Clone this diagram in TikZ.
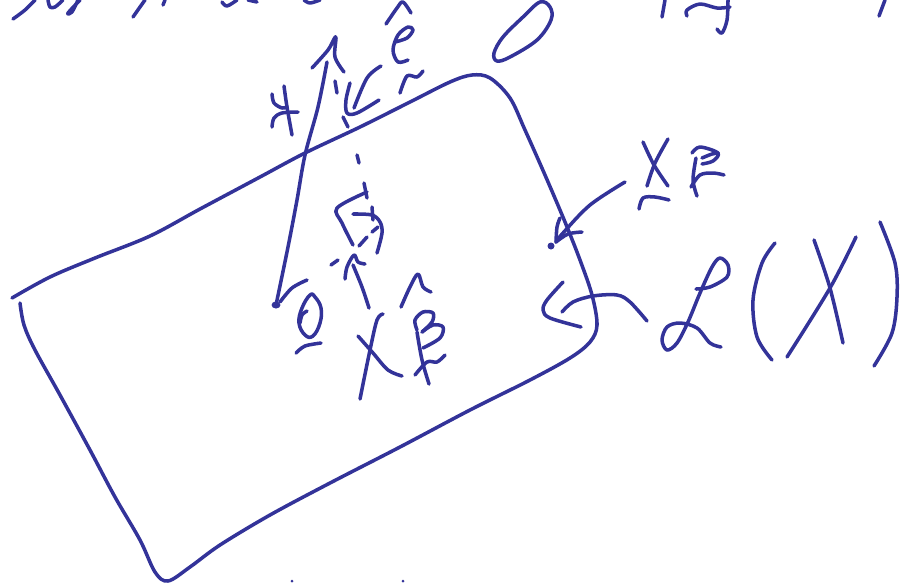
\documentclass[tikz,border=0pt]{standalone}
\definecolor{inkblue}{RGB}{51,51,153}
\newcommand{\stroke}[1]{\draw[ink] plot[smooth, tension=0.55] coordinates {#1};}
\begin{document}
\begin{tikzpicture}[x=0.1mm, y=-0.1mm,
        ink/.style={draw=inkblue, line width=1pt, line cap=round, line join=round}
    ]
    \useasboundingbox (0,0) rectangle (900,582);

    % plane
    \stroke{(12,298) (50,277) (95,258) (150,236) (200,209) (260,177) (305,153) (360,127) (410,102) (450,82) (472,75) (490,78) (510,98) (525,130) (545,175) (565,222) (580,260) (592,295) (597,325) (590,342) (570,358) (530,380) (470,410) (400,447) (330,483) (270,515) (220,545) (190,567) (168,581) (155,572) (140,540) (115,497) (90,450) (60,395) (35,350) (24,325) (20,303)}

    % y vector
    \stroke{(276,305) (288,247) (297,200) (305,155) (318,107) (327,62)}
    \stroke{(312,68) (328,50) (334,39) (336,38) (335,57) (344,72)}
    \stroke{(272,94) (274,103) (282,108) (287,107)}
    \stroke{(284,86) (287,107) (292,135)}
    \stroke{(272,127) (274,118) (282,113) (298,112)}

    % normal, dashed
    \stroke{(335,81) (337,93)}
    \stroke{(343,117) (348,127)}
    \stroke{(357,155) (359,163)}
    \stroke{(364,183) (367,198)}
    \stroke{(378,227) (372,232)}
    \stroke{(367,237) (359,246)}
    \stroke{(338,260) (331,265)}

    % e hat
    \stroke{(381,66) (367,78) (354,108)}
    \stroke{(350,83) (346,100) (347,113) (357,113) (379,100)}
    \stroke{(395,42) (407,38) (413,30) (408,27) (398,35) (393,50) (398,62) (408,60)}
    \stroke{(386,24) (397,8) (403,2) (411,13)}
    \stroke{(400,93) (407,76) (417,77) (423,71)}

    % right angle
    \stroke{(367,192) (337,208) (342,223) (353,245)}
    \stroke{(353,214) (372,215) (380,222) (382,233) (377,253)}
    \stroke{(372,207) (373,220)}

    % Xbeta arrow
    \stroke{(369,308) (362,287) (353,265)}
    \stroke{(345,279) (347,267) (354,255) (358,262) (365,264)}

    % origin
    \fill[inkblue] (276,305) ellipse (4.5 and 3.5);
    \stroke{(307,280) (292,288) (280,302)}
    \draw[ink] plot[smooth cycle, tension=0.7] coordinates {(310,295) (302,308) (299,323) (305,335) (313,336) (320,323) (321,308) (315,297)};
    \stroke{(307,311) (302,315) (300,323)}
    \stroke{(296,353) (305,346) (321,343)}

    % X beta
    \stroke{(383,314) (377,320) (370,350) (360,399)}
    \stroke{(358,336) (373,353) (388,370) (402,376)}
    \stroke{(401,307) (410,287) (418,274) (423,287) (431,292)}
    \stroke{(417,330) (415,320) (423,312) (433,313) (432,322) (422,332)}
    \stroke{(422,332) (433,325) (443,327) (440,338) (423,348)}
    \stroke{(417,332) (422,360) (429,384)}
    \stroke{(415,375) (427,362) (437,362) (445,355)}

    % X beta tilde
    \stroke{(643,142) (654,165) (668,186)}
    \stroke{(668,139) (655,163) (647,186)}
    \stroke{(639,209) (643,198) (655,197) (669,200)}
    \stroke{(692,153) (700,147) (718,153) (713,161) (702,164)}
    \stroke{(702,158) (712,154) (718,153)}
    \stroke{(696,158) (693,180) (697,196)}
    \stroke{(691,187) (700,175) (713,173) (724,175)}
    \stroke{(625,182) (590,205) (563,233) (556,242)}
    \stroke{(560,218) (557,227) (556,242)}
    \stroke{(556,242) (568,234) (582,232)}
    \fill[inkblue] (551,246) circle (3.5);

    % L(X)
    \stroke{(563,282) (547,300) (543,310) (550,318) (581,327)}
    \stroke{(562,312) (573,302) (593,296) (617,295) (630,302) (647,321)}
    \stroke{(696,289) (710,287) (727,277) (728,265) (720,258) (712,267) (700,293) (688,322) (677,343) (667,350) (662,340) (667,327) (680,323) (697,328) (710,343) (721,347)}
    \stroke{(775,243) (762,263) (753,300) (757,337) (772,360)}
    \stroke{(814,240) (830,288) (843,343)}
    \stroke{(856,237) (830,288) (787,357)}
    \stroke{(880,222) (895,263) (897,297) (892,333) (874,366)}

    % top edge
    \draw[ink] plot[smooth cycle, tension=0.6] coordinates {(540,2) (550,7) (551,20) (537,40) (510,57) (497,61) (494,53) (503,37) (523,17)};
    \stroke{(665,0) (662,17)}
    \stroke{(687,16) (687,10) (700,4) (717,8) (730,7)}
    \stroke{(728,0) (727,20) (722,33) (717,29)}
    \stroke{(885,0) (879,16)}
    \stroke{(13,19) (25,10) (35,0)}
    \stroke{(48,0) (50,7) (55,7) (63,0)}
    \stroke{(80,0) (68,13) (72,12) (78,0)}
    \stroke{(133,17) (140,7) (145,0)}
    \stroke{(165,0) (163,5)}
    \stroke{(222,2) (227,6) (237,0)}
    \stroke{(248,0) (257,2)}
    \stroke{(304,0) (310,3) (320,0)}
    \fill[inkblue] (292,581) circle (1.5);
    \fill[inkblue] (403,581) circle (1.5);
\end{tikzpicture}
\end{document}
